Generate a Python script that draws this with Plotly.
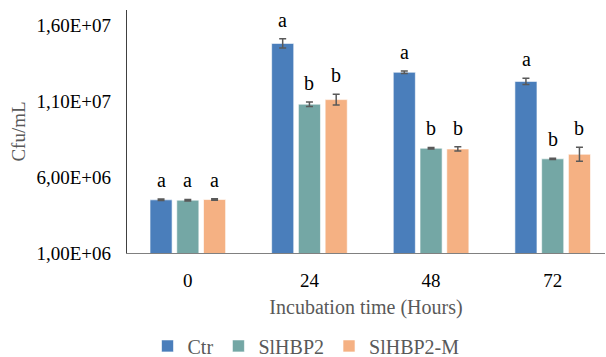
import plotly.graph_objects as go

categories = ["0", "24", "48", "72"]
series_names = ["Ctr", "SlHBP2", "SlHBP2-M"]
ctr_vals = [4.50e6, 1.48e7, 1.29e7, 1.23e7]
ctr_err = [0.05e6, 0.30e6, 0.08e6, 0.20e6]
hbp2_vals = [4.48e6, 1.08e7, 7.90e6, 7.20e6]
hbp2_err = [0.05e6, 0.15e6, 0.05e6, 0.04e6]
hbp2m_vals = [4.52e6, 1.11e7, 7.85e6, 7.50e6]
hbp2m_err = [0.05e6, 0.36e6, 0.14e6, 0.46e6]
ctr_letters = ["a", "a", "a", "a"]
hbp2_letters = ["a", "b", "b", "b"]
hbp2m_letters = ["a", "b", "b", "b"]
y_tickvals = [1e6, 6e6, 1.1e7, 1.6e7]
y_ticktext = ["1,00E+06", "6,00E+06", "1,10E+07", "1,60E+07"]

colors = ["#4a7ebb", "#74a7a5", "#f5b183"]
FONT = "Liberation Serif"

vals = [ctr_vals, hbp2_vals, hbp2m_vals]
errs = [ctr_err, hbp2_err, hbp2m_err]
letters = [ctr_letters, hbp2_letters, hbp2m_letters]

fig = go.Figure()
for name, v, e, c in zip(series_names, vals, errs, colors):
    fig.add_trace(go.Bar(
        x=categories, y=v, name=name,
        marker=dict(color=c, line=dict(color="rgba(255,255,255,0.6)", width=1)),
        error_y=dict(type="data", array=e, visible=True, color="#595959",
                     thickness=1.5, width=3.5),
    ))

slot_px = 26.7
for i, (v, e, lt) in enumerate(zip(vals, errs, letters)):
    for ci, (val, er, t) in enumerate(zip(v, e, lt)):
        fig.add_annotation(x=ci, y=val + er, xref="x", yref="y", text=t,
                           showarrow=False, xshift=(i - 1) * slot_px, yshift=19,
                           yanchor="middle",
                           font=dict(family=FONT, size=20, color="#000000"))

fig.update_layout(
    width=606, height=357,
    margin=dict(l=127, r=1, t=10, b=104, autoexpand=False),
    paper_bgcolor="white", plot_bgcolor="white",
    barmode="group", bargap=0.34, bargroupgap=0.175,
    font=dict(family=FONT, size=19, color="#000000"),
    showlegend=True,
    legend=dict(orientation="h", xref="container", yref="container",
                x=0.505, xanchor="center", y=0.031, yanchor="middle",
                font=dict(family=FONT, size=20, color="#595959"),
                itemwidth=30, tracegroupgap=0),
)
fig.update_xaxes(
    type="category", range=[-0.5, 3.43], automargin=False,
    showline=True, linecolor="#808080", linewidth=1.2,
    showgrid=False, ticks="outside", ticklen=10, tickcolor="rgba(0,0,0,0)",
    tickfont=dict(family=FONT, size=19, color="#000000"),
    title=dict(text="Incubation time (Hours)", standoff=10,
               font=dict(family=FONT, size=20, color="#595959")),
)
fig.update_yaxes(
    range=[1e6, 1.7e7], automargin=False,
    tickvals=y_tickvals, ticktext=y_ticktext,
    showline=True, linecolor="#404040", linewidth=1.2,
    showgrid=False, zeroline=False,
    ticks="outside", ticklen=11, tickcolor="rgba(0,0,0,0)",
    tickfont=dict(family=FONT, size=19, color="#000000"),
    title=dict(text="Cfu/mL", standoff=5,
               font=dict(family=FONT, size=19, color="#595959")),
)

fig.write_html("out.html")
